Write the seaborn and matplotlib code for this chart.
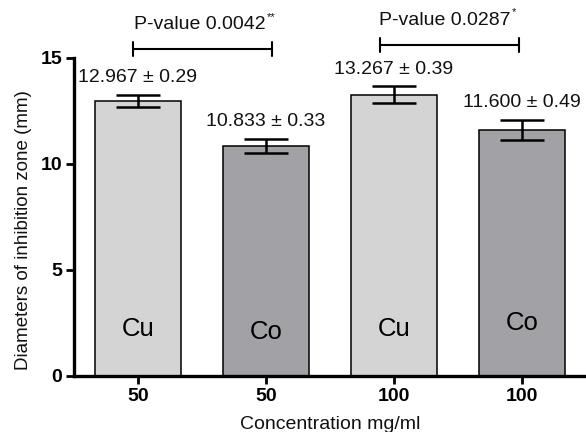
import matplotlib
matplotlib.use("Agg")
import matplotlib.pyplot as plt
import seaborn as sns
import pandas as pd

# Inhibition zone diameters (mean ± SD) per metal and concentration
bar_labels = ["Cu 50", "Co 50", "Cu 100", "Co 100"]
tick_labels = ["50", "50", "100", "100"]
metals = ["Cu", "Co", "Cu", "Co"]
means = [12.967, 10.833, 13.267, 11.600]
sds = [0.29, 0.33, 0.39, 0.49]
metal_label_y = [2.22, 2.09, 2.22, 2.5]
p_values = ["0.0042", "0.0287"]
p_stars = ["**", "*"]

bar_colors = ["#d4d4d4", "#a2a1a5", "#d4d4d4", "#a2a1a5"]

df = pd.DataFrame({"group": bar_labels, "mean": means})

sns.set_theme(style="ticks")
plt.rcParams["font.family"] = ["Liberation Sans", "DejaVu Sans"]

fig = plt.figure(figsize=(5.86, 4.32), dpi=100)
ax = fig.add_axes([74 / 586, 56 / 432, 1 - 74 / 586, (376 - 58) / 432])

sns.barplot(data=df, x="group", y="mean", hue="group", palette=bar_colors,
            legend=False, width=0.667, edgecolor="black", linewidth=1.1,
            ax=ax)

pos = list(range(len(means)))
ax.errorbar(pos, means, yerr=sds, fmt="none", ecolor="black",
            elinewidth=1.8, capsize=16, capthick=1.8, zorder=5)

for i, (m, s) in enumerate(zip(means, sds)):
    ax.annotate(f"{m:.3f} ± {s:.2f}", xy=(i, m + s), xytext=(0, 12.5),
                textcoords="offset points", ha="center", va="center",
                fontsize=14, color="#111111", annotation_clip=False)
    ax.text(i, metal_label_y[i], metals[i], ha="center", va="center",
            fontsize=18.5, color="black")

# Significance brackets between Cu and Co at each concentration
brackets = [(-0.04, 1.047, 15.42, 0.484, 16.56),
            (1.89, 2.977, 15.61, 2.40, 16.79)]
for (x0, x1, yb, xt, yt), p, star in zip(brackets, p_values, p_stars):
    ax.plot([x0, x1], [yb, yb], color="black", lw=1.5, clip_on=False)
    for xx in (x0, x1):
        ax.plot([xx, xx], [yb - 0.33, yb + 0.33], color="black", lw=1.5,
                clip_on=False)
    t = ax.text(xt, yt, f"P-value {p}", ha="center", va="center",
                fontsize=14, color="#111111", clip_on=False)
    ax.annotate(star, xy=(1, 1), xycoords=t, xytext=(0.5, 3),
                textcoords="offset points", ha="left", va="top",
                fontsize=8, color="#111111", annotation_clip=False)

ax.set_ylim(0, 15)
ax.set_xlim(-0.5, 3.5)
ax.set_yticks([0, 5, 10, 15])
ax.set_xticks(pos)
ax.set_xticklabels(tick_labels)
for lbl in ax.get_xticklabels() + ax.get_yticklabels():
    lbl.set_fontweight("bold")
    lbl.set_fontsize(14)
    lbl.set_color("black")

ax.set_xlabel("Concentration mg/ml", fontsize=14, color="#111111", labelpad=8)
ax.set_ylabel("Diameters of inhibition zone (mm)", fontsize=13.5,
              color="#111111")
ax.yaxis.set_label_coords(-0.082, 0.46)

sns.despine(ax=ax)
for side in ("left", "bottom"):
    ax.spines[side].set_linewidth(2.4)
    ax.spines[side].set_color("black")
ax.tick_params(axis="both", width=2.0, length=6, color="black", pad=2.5)

fig.savefig("out.png", dpi=100)
